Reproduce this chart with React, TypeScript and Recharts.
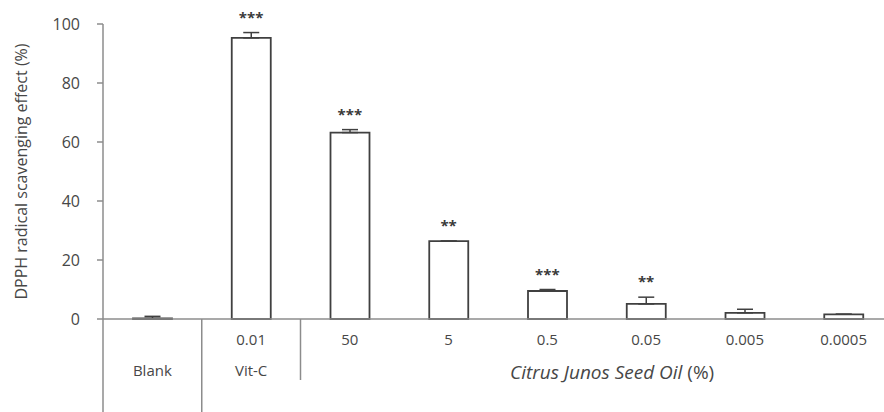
import { ComposedChart, Bar, Line, XAxis, YAxis, ErrorBar, LabelList, Label } from "recharts";

// categories along the x axis
const categories = ["Blank", "Vit-C 0.01", "50", "5", "0.5", "0.05", "0.005", "0.0005"];
const doseLabels = ["", "0.01", "50", "5", "0.5", "0.05", "0.005", "0.0005"];
const groupLabels = ["Blank", "Vit-C", "", "", "", "", "", ""];
// DPPH radical scavenging effect (%)
const means = [0.2, 95.3, 63.2, 26.4, 9.5, 5.1, 2.1, 1.6];
const errors = [0.7, 1.8, 1.0, 0, 0.5, 2.3, 1.2, 0];
const significance = ["", "***", "***", "**", "***", "**", "", ""];
const yTicks = [0, 20, 40, 60, 80, 100];

const data = categories.map((c, i) => ({
  cat: c,
  mean: means[i],
  err: [0, errors[i]],
  top: means[i] + errors[i],
  sig: significance[i],
}));

const W = 900;
const H = 412;
const Y_AXIS_W = 103;
const RIGHT = 7;
const X_AXIS_H = 93;
const BAND = (W - Y_AXIS_W - RIGHT) / categories.length;
const FONT = "'Open Sans', 'Noto Sans', sans-serif";
const TEXT = "#474747";
const AXIS = "#8c8c8c";

function CategoryTick(props: any) {
  const { x, y, index } = props;
  const left = x - BAND / 2;
  return (
    <g fontFamily={FONT} fill={TEXT}>
      {index === 0 && <line x1={left} y1={y} x2={left} y2={y + X_AXIS_H} stroke={AXIS} strokeWidth={1.5} />}
      {index === 1 && <line x1={left} y1={y} x2={left} y2={y + X_AXIS_H} stroke={AXIS} strokeWidth={1.5} />}
      {index === 2 && <line x1={left} y1={y} x2={left} y2={y + 61} stroke={AXIS} strokeWidth={1.5} />}
      {doseLabels[index] && (
        <text x={x} y={y + 20} textAnchor="middle" dominantBaseline="central" fontSize={15}>
          {doseLabels[index]}
        </text>
      )}
      {groupLabels[index] && (
        <text x={x} y={y + 51} textAnchor="middle" dominantBaseline="central" fontSize={15}>
          {groupLabels[index]}
        </text>
      )}
      {index === 5 && (
        <text x={x - 34} y={y + 53} textAnchor="middle" dominantBaseline="central" fontSize={19}>
          <tspan fontStyle="italic">Citrus Junos Seed Oil</tspan>
          <tspan> (%)</tspan>
        </text>
      )}
    </g>
  );
}

function YLabel(props: any) {
  const vb = props.viewBox;
  const cx = vb.x + 21;
  const cy = vb.y + vb.height / 2;
  return (
    <text
      x={cx}
      y={cy}
      transform={`rotate(-90 ${cx} ${cy})`}
      textAnchor="middle"
      dominantBaseline="central"
      fontSize={16}
      fontFamily={FONT}
      fill={TEXT}
    >
      DPPH radical scavenging effect (%)
    </text>
  );
}

export default function App() {
  return (
    <div style={{ position: "fixed", left: 0, top: 0, width: 884, height: 412, overflow: "hidden", background: "#fff" }}>
      <ComposedChart width={W} height={H} data={data} margin={{ top: 24, right: RIGHT, left: 0, bottom: 0 }}>
        <XAxis
          dataKey="cat"
          interval={0}
          height={X_AXIS_H}
          tickLine={false}
          tickSize={0}
          tickMargin={0}
          axisLine={{ stroke: AXIS, strokeWidth: 1.5 }}
          tick={<CategoryTick />}
        />
        <YAxis
          width={Y_AXIS_W}
          domain={[0, 100]}
          ticks={yTicks}
          tickSize={6}
          tickMargin={17}
          axisLine={{ stroke: AXIS, strokeWidth: 1.5 }}
          tickLine={{ stroke: AXIS, strokeWidth: 1.5 }}
          tick={{ fill: TEXT, fontSize: 16, fontFamily: FONT }}
        >
          <Label content={<YLabel />} />
        </YAxis>
        <Bar dataKey="mean" barSize={39} fill="#ffffff" stroke="#404040" strokeWidth={1.8} isAnimationActive={false}>
          <ErrorBar dataKey="err" direction="y" width={8} stroke="#404040" strokeWidth={1.5} />
        </Bar>
        <Line dataKey="top" stroke="none" dot={false} activeDot={false} isAnimationActive={false}>
          <LabelList
            dataKey="sig"
            position="top"
            offset={10}
            fill="#3a3a3a"
            fontSize={15}
            fontWeight="bold"
            fontFamily={FONT}
          />
        </Line>
      </ComposedChart>
    </div>
  );
}
